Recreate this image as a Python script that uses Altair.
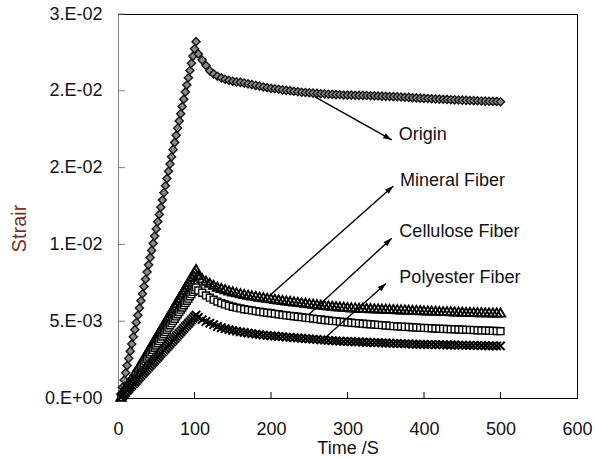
import math
import altair as alt
import pandas as pd

# ---------------- data ----------------
time_s = [
    4, 6, 8, 10, 12, 14, 16, 18, 20, 22,
    24, 26, 28, 30, 32, 34, 36, 38, 40, 42,
    44, 46, 48, 50, 52, 54, 56, 58, 60, 62,
    64, 66, 68, 70, 72, 74, 76, 78, 80, 82,
    84, 86, 88, 90, 92, 94, 96, 98, 100, 102,
    105, 110, 115, 120, 125, 130, 135, 140, 145, 150,
    155, 160, 165, 170, 175, 180, 185, 190, 195, 200,
    205, 210, 215, 220, 225, 230, 235, 240, 245, 250,
    255, 260, 265, 270, 275, 280, 285, 290, 295, 300,
    305, 310, 315, 320, 325, 330, 335, 340, 345, 350,
    355, 360, 365, 370, 375, 380, 385, 390, 395, 400,
    405, 410, 415, 420, 425, 430, 435, 440, 445, 450,
    455, 460, 465, 470, 475, 480, 485, 490, 495, 500,
]

origin = [
    0.00023, 0.00070, 0.00117, 0.00164, 0.00211, 0.00258, 0.00305, 0.00351, 0.00398, 0.00445,
    0.00492, 0.00539, 0.00586, 0.00633, 0.00679, 0.00726, 0.00773, 0.00820, 0.00867, 0.00914,
    0.00961, 0.01007, 0.01054, 0.01101, 0.01148, 0.01195, 0.01242, 0.01289, 0.01336, 0.01382,
    0.01429, 0.01476, 0.01523, 0.01570, 0.01617, 0.01664, 0.01710, 0.01757, 0.01804, 0.01851,
    0.01898, 0.01945, 0.01992, 0.02038, 0.02085, 0.02132, 0.02179, 0.02226, 0.02273, 0.02320,
    0.02240, 0.02200, 0.02165, 0.02130, 0.02110, 0.02095, 0.02084, 0.02075, 0.02068, 0.02062,
    0.02058, 0.02055, 0.02050, 0.02045, 0.02040, 0.02035, 0.02030, 0.02025, 0.02020, 0.02016,
    0.02013, 0.02010, 0.02006, 0.02003, 0.02000, 0.01997, 0.01994, 0.01991, 0.01989, 0.01987,
    0.01985, 0.01983, 0.01981, 0.01980, 0.01978, 0.01977, 0.01975, 0.01974, 0.01973, 0.01972,
    0.01972, 0.01971, 0.01970, 0.01970, 0.01969, 0.01968, 0.01967, 0.01966, 0.01965, 0.01964,
    0.01963, 0.01962, 0.01961, 0.01960, 0.01958, 0.01957, 0.01955, 0.01954, 0.01952, 0.01951,
    0.01950, 0.01948, 0.01947, 0.01946, 0.01945, 0.01944, 0.01942, 0.01941, 0.01940, 0.01939,
    0.01938, 0.01937, 0.01936, 0.01935, 0.01934, 0.01933, 0.01932, 0.01931, 0.01930, 0.01929,
]

mineral = [
    0.00008, 0.00025, 0.00042, 0.00059, 0.00076, 0.00093, 0.00110, 0.00127, 0.00144, 0.00161,
    0.00178, 0.00195, 0.00212, 0.00229, 0.00246, 0.00263, 0.00280, 0.00297, 0.00314, 0.00331,
    0.00348, 0.00365, 0.00382, 0.00399, 0.00416, 0.00432, 0.00449, 0.00466, 0.00483, 0.00500,
    0.00517, 0.00534, 0.00551, 0.00568, 0.00585, 0.00602, 0.00619, 0.00636, 0.00653, 0.00670,
    0.00687, 0.00704, 0.00721, 0.00738, 0.00755, 0.00772, 0.00789, 0.00806, 0.00823, 0.00840,
    0.00800, 0.00780, 0.00764, 0.00750, 0.00737, 0.00725, 0.00716, 0.00708, 0.00700, 0.00694,
    0.00688, 0.00682, 0.00677, 0.00672, 0.00668, 0.00664, 0.00660, 0.00656, 0.00652, 0.00649,
    0.00645, 0.00642, 0.00638, 0.00635, 0.00632, 0.00629, 0.00626, 0.00623, 0.00620, 0.00617,
    0.00614, 0.00611, 0.00608, 0.00605, 0.00602, 0.00600, 0.00598, 0.00596, 0.00594, 0.00592,
    0.00590, 0.00589, 0.00588, 0.00587, 0.00586, 0.00585, 0.00584, 0.00583, 0.00582, 0.00581,
    0.00580, 0.00579, 0.00578, 0.00577, 0.00576, 0.00575, 0.00574, 0.00573, 0.00572, 0.00571,
    0.00570, 0.00569, 0.00568, 0.00567, 0.00566, 0.00566, 0.00565, 0.00564, 0.00563, 0.00562,
    0.00561, 0.00561, 0.00560, 0.00559, 0.00559, 0.00558, 0.00558, 0.00557, 0.00557, 0.00556,
]

cellulose = [
    0.00007, 0.00022, 0.00036, 0.00051, 0.00065, 0.00080, 0.00095, 0.00109, 0.00124, 0.00138,
    0.00153, 0.00167, 0.00182, 0.00196, 0.00211, 0.00225, 0.00240, 0.00255, 0.00269, 0.00284,
    0.00298, 0.00313, 0.00327, 0.00342, 0.00356, 0.00371, 0.00385, 0.00400, 0.00415, 0.00429,
    0.00444, 0.00458, 0.00473, 0.00487, 0.00502, 0.00516, 0.00531, 0.00545, 0.00560, 0.00575,
    0.00589, 0.00604, 0.00618, 0.00633, 0.00647, 0.00662, 0.00676, 0.00691, 0.00705, 0.00720,
    0.00700, 0.00685, 0.00668, 0.00653, 0.00640, 0.00628, 0.00618, 0.00609, 0.00601, 0.00594,
    0.00588, 0.00583, 0.00578, 0.00574, 0.00570, 0.00566, 0.00562, 0.00558, 0.00555, 0.00552,
    0.00548, 0.00545, 0.00541, 0.00538, 0.00535, 0.00532, 0.00529, 0.00526, 0.00523, 0.00520,
    0.00517, 0.00514, 0.00511, 0.00508, 0.00505, 0.00502, 0.00500, 0.00497, 0.00495, 0.00493,
    0.00490, 0.00488, 0.00486, 0.00484, 0.00482, 0.00480, 0.00478, 0.00476, 0.00474, 0.00472,
    0.00470, 0.00468, 0.00466, 0.00465, 0.00463, 0.00462, 0.00460, 0.00459, 0.00457, 0.00456,
    0.00455, 0.00454, 0.00452, 0.00451, 0.00450, 0.00449, 0.00448, 0.00447, 0.00446, 0.00445,
    0.00444, 0.00443, 0.00442, 0.00441, 0.00440, 0.00439, 0.00438, 0.00437, 0.00436, 0.00435,
]

polyester = [
    0.00005, 0.00016, 0.00027, 0.00038, 0.00049, 0.00060, 0.00071, 0.00082, 0.00093, 0.00104,
    0.00114, 0.00125, 0.00136, 0.00147, 0.00158, 0.00169, 0.00180, 0.00191, 0.00202, 0.00213,
    0.00224, 0.00234, 0.00245, 0.00256, 0.00267, 0.00278, 0.00289, 0.00300, 0.00311, 0.00322,
    0.00333, 0.00344, 0.00354, 0.00365, 0.00376, 0.00387, 0.00398, 0.00409, 0.00420, 0.00431,
    0.00442, 0.00453, 0.00464, 0.00474, 0.00485, 0.00496, 0.00507, 0.00518, 0.00529, 0.00540,
    0.00525, 0.00510, 0.00498, 0.00487, 0.00477, 0.00466, 0.00458, 0.00451, 0.00445, 0.00440,
    0.00435, 0.00431, 0.00427, 0.00423, 0.00419, 0.00416, 0.00413, 0.00410, 0.00407, 0.00405,
    0.00403, 0.00401, 0.00399, 0.00397, 0.00395, 0.00393, 0.00391, 0.00389, 0.00387, 0.00385,
    0.00383, 0.00381, 0.00379, 0.00377, 0.00375, 0.00373, 0.00372, 0.00370, 0.00369, 0.00368,
    0.00367, 0.00366, 0.00365, 0.00364, 0.00363, 0.00362, 0.00361, 0.00360, 0.00359, 0.00358,
    0.00357, 0.00356, 0.00355, 0.00354, 0.00353, 0.00352, 0.00351, 0.00350, 0.00349, 0.00349,
    0.00348, 0.00348, 0.00347, 0.00347, 0.00346, 0.00346, 0.00345, 0.00345, 0.00344, 0.00344,
    0.00343, 0.00343, 0.00342, 0.00342, 0.00341, 0.00341, 0.00340, 0.00340, 0.00339, 0.00339,
]

series_names = ["Origin", "Mineral Fiber", "Cellulose Fiber", "Polyester Fiber"]

x_ticks = [0, 100, 200, 300, 400, 500, 600]
y_ticks = [0.0, 0.005, 0.01, 0.015, 0.02, 0.025]
y_tick_labels = ["0.E+00", "5.E-03", "1.E-02", "2.E-02", "2.E-02", "3.E-02"]

# annotation labels (left edge / baseline, data units) and arrows (start -> tip)
label_t = [367.0, 368.6, 367.8, 367.8]
label_v = [0.01680, 0.01383, 0.01046, 0.00750]
arrow_t1 = [257.5, 196.5, 248.8, 271.9]
arrow_v1 = [0.01961, 0.00659, 0.00540, 0.00397]
arrow_t2 = [357.8, 359.9, 357.8, 350.3]
arrow_v2 = [0.01680, 0.01380, 0.01040, 0.00745]

for s in (origin, mineral, cellulose, polyester):
    assert len(s) == len(time_s)

# ---------------- chart ----------------
W, H = 459, 384
X_MAX, Y_MAX = 600, 0.025
FONT = "Liberation Sans"
TXT = "#111111"

def frame(vals):
    return pd.DataFrame({"t": time_s, "v": vals})

label_expr = "[" + ",".join("'%s'" % s for s in y_tick_labels) + "][round(datum.value/0.005)]"

xs = alt.Scale(domain=[0, X_MAX], nice=False, zero=False)
ys = alt.Scale(domain=[0, Y_MAX], nice=False, zero=False)

x_axis = alt.Axis(
    values=x_ticks, title="Time /S", ticks=False, tickSize=0, labelPadding=22,
    labelFlush=False, labelOverlap=False, domainColor="#000000",
    titleY=41, titleX=W / 2, titleBaseline="top", titleFontSize=18,
)
y_axis = alt.Axis(
    values=y_ticks, labelExpr=label_expr, title="Strair", ticks=False, tickSize=0,
    labelPadding=16, labelFlush=False, labelOverlap=False, domainColor="#808080",
    titleAngle=270, titleX=-93, titleY=214, titleAlign="center",
    titleBaseline="alphabetic", titleFontSize=20, titleColor="#70342a",
)

def X(field):
    return alt.X(field, type="quantitative", scale=xs, axis=x_axis)

def Y(field):
    return alt.Y(field, type="quantitative", scale=ys, axis=y_axis)

origin_layer = alt.Chart(frame(origin)).mark_point(
    shape="diamond", filled=True, fill="#8a8a8a", stroke="#151515",
    strokeWidth=1.4, size=66, opacity=1,
).encode(x=X("t"), y=Y("v"))

mineral_layer = alt.Chart(frame(mineral)).mark_point(
    shape="triangle-up", filled=False, color="black", strokeWidth=1.8, size=90, opacity=1,
).encode(x=X("t"), y=Y("v"))

cellulose_layer = alt.Chart(frame(cellulose)).mark_point(
    shape="square", filled=True, fill="white", stroke="black", strokeWidth=1.4,
    size=48, opacity=1,
).encode(x=X("t"), y=Y("v"))

polyester_layer = alt.Chart(frame(polyester)).mark_point(
    shape="M-1,-1L1,1M-1,1L1,-1", filled=False, color="black", strokeWidth=2.0,
    size=70, opacity=1,
).encode(x=X("t"), y=Y("v"))

# inward tick marks
xt = pd.DataFrame({"t": x_ticks[1:-1]})
x_tick_layer = alt.Chart(xt).mark_rule(color="#000000", strokeWidth=1).encode(
    x=X("t"), y=alt.value(H), y2=alt.value(H - 6)
)
yt = pd.DataFrame({"v": y_ticks[1:]})
y_tick_layer = alt.Chart(yt).mark_rule(color="#808080", strokeWidth=1).encode(
    y=Y("v"), x=alt.value(0), x2=alt.value(7)
)

def screen_angle(t1, v1, t2, v2):
    dx = (t2 - t1) * W / X_MAX
    dy = -(v2 - v1) * H / Y_MAX
    return math.degrees(math.atan2(dx, -dy)) % 360

ann = pd.DataFrame({
    "name": series_names,
    "lt": label_t, "lv": label_v,
    "t": arrow_t1, "v": arrow_v1, "t2": arrow_t2, "v2": arrow_v2,
    "ang": [screen_angle(a, b, c, d) for a, b, c, d in zip(arrow_t1, arrow_v1, arrow_t2, arrow_v2)],
})

arrow_lines = alt.Chart(ann).mark_rule(color="black", strokeWidth=1.4).encode(
    x=X("t"), y=Y("v"), x2="t2:Q", y2="v2:Q"
)
arrow_heads = alt.Chart(ann).mark_point(
    shape="M0,0L-0.6,1.8L0.6,1.8Z", filled=True, color="black", size=90, opacity=1,
).encode(
    x=X("t2"), y=Y("v2"),
    angle=alt.Angle("ang:Q", scale=None),
)
labels = alt.Chart(ann).mark_text(
    align="left", baseline="alphabetic", font=FONT, fontSize=18, color=TXT,
).encode(
    x=X("lt"), y=Y("lv"), text="name:N",
)

chart = alt.layer(
    origin_layer, mineral_layer, cellulose_layer, polyester_layer,
    x_tick_layer, y_tick_layer, arrow_lines, arrow_heads, labels,
).properties(
    width=W, height=H,
    padding={"left": 118, "top": 14, "right": 18, "bottom": 60},
    autosize=alt.AutoSizeParams(type="none"),
    background="white",
).configure_view(
    stroke="#000000", strokeWidth=1,
).configure_axis(
    grid=False, labelFont=FONT, titleFont=FONT, labelFontSize=18,
    labelColor=TXT, titleColor=TXT, titleFontWeight="normal", domainWidth=1,
)

chart.save("out.html", embed_options={"renderer": "svg", "actions": False})
